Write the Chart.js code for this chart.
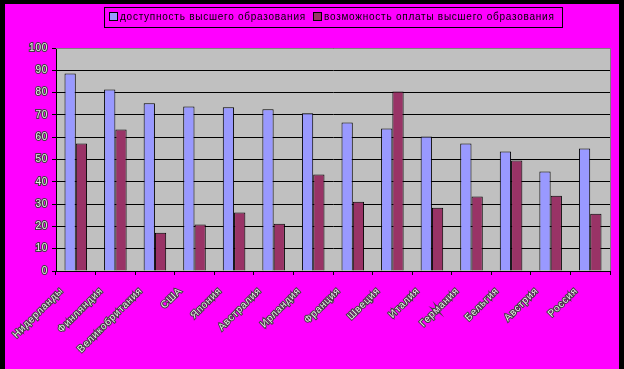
<!DOCTYPE html>
<html>
<head>
<meta charset="utf-8">
<script src="https://cdn.jsdelivr.net/npm/chart.js@4.4.1/dist/chart.umd.min.js"></script>
<style>
  html, body { margin: 0; padding: 0; background: #000; }
  #frame { position: absolute; left: 5px; top: 4px; width: 614px; height: 365px; background: #ff00ff; }
  #legend { position: absolute; left: 99px; top: 3px; width: 457px; height: 19px; border: 1px solid #000;
    font: 10px "Liberation Sans", Arial, sans-serif; letter-spacing: 0.75px; color: #000; }
  .item { position: absolute; top: 3px; white-space: nowrap; }
  .sw { display: inline-block; width: 7px; height: 7px; border: 1px solid #000; vertical-align: -1px; margin-right: 2px; }
</style>
</head>
<body>
<div id="frame">
  <div id="legend">
    <span class="item" style="left:4px"><span class="sw" style="background:#9999ff"></span>доступность высшего образования</span>
    <span class="item" style="left:208px"><span class="sw" style="background:#993366"></span>возможность оплаты высшего образования</span>
  </div>
  <canvas id="myChart" width="614" height="365"></canvas>
</div>
<script>
const countries = ['Нидерланды', 'Финляндия', 'Великобритания', 'США', 'Япония', 'Австралия', 'Ирландия',
  'Франция', 'Швеция', 'Италия', 'Германия', 'Бельгия', 'Австрия', 'Россия']
const accessValues = [88.6, 81.4, 75.2, 73.8, 73.4, 72.5, 70.7, 66.6, 63.9, 60.3, 57.2, 53.6, 44.6, 54.9]
const payValues = [57.2, 63.5, 17.2, 20.8, 26.2, 21.2, 43.3, 31.1, 80.5, 28.4, 33.4, 49.5, 33.8, 25.7]
const seriesNames = ['доступность высшего образования', 'возможность оплаты высшего образования']

const plotBack = {
  id: 'plotBack',
  beforeDraw(chart) {
    chart.ctx.letterSpacing = '0.75px'
    const a = chart.chartArea
    const ctx = chart.ctx
    ctx.save()
    ctx.fillStyle = '#c0c0c0'
    ctx.fillRect(a.left, a.top, a.right - a.left, a.bottom - a.top)
    ctx.restore()
  },
  afterDraw(chart) {
    const a = chart.chartArea
    const ctx = chart.ctx
    ctx.save()
    ctx.strokeStyle = '#808080'
    ctx.lineWidth = 1
    ctx.beginPath()
    ctx.moveTo(a.left, a.top + 0.5)
    ctx.lineTo(a.right + 0.5, a.top + 0.5)
    ctx.lineTo(a.right + 0.5, a.bottom)
    ctx.stroke()
    ctx.restore()
  }
}

const tickFont = { family: '"Liberation Sans", Arial, sans-serif', size: 10 }

const ctx = document.getElementById('myChart')
const myChart = new Chart(ctx, {
  type: 'bar',
  data: {
    labels: countries,
    datasets: [{
      label: seriesNames[0],
      data: accessValues,
      backgroundColor: '#9999ff',
      borderColor: '#000',
      borderWidth: 1,
      categoryPercentage: 0.57,
      barPercentage: 1
    }, {
      label: seriesNames[1],
      data: payValues,
      backgroundColor: '#993366',
      borderColor: '#000',
      borderWidth: 1,
      categoryPercentage: 0.57,
      barPercentage: 1
    }]
  },
  options: {
    responsive: false,
    animation: false,
    layout: { padding: { left: 0, right: 9, top: 44, bottom: 0 } },
    plugins: { legend: { display: false }, tooltip: { enabled: false } },
    scales: {
      x: {
        grid: { offset: true, drawOnChartArea: false, color: '#000', tickLength: 4 },
        border: { color: '#000', width: 1 },
        ticks: {
          autoSkip: false, maxRotation: 45, minRotation: 45,
          labelOffset: -14, padding: 10,
          font: tickFont, color: '#e8e8e8',
          textStrokeColor: '#404040', textStrokeWidth: 2
        },
        afterFit(scale) { scale.height = 98 }
      },
      y: {
        min: 0, max: 100,
        grid: { color: '#000', tickLength: 4 },
        border: { color: '#000', width: 1 },
        ticks: {
          stepSize: 10, padding: 4,
          font: tickFont, color: '#e8e8e8',
          textStrokeColor: '#404040', textStrokeWidth: 2
        },
        afterFit(scale) { scale.width = 51 }
      }
    }
  },
  plugins: [plotBack]
})
</script>
</body>
</html>
